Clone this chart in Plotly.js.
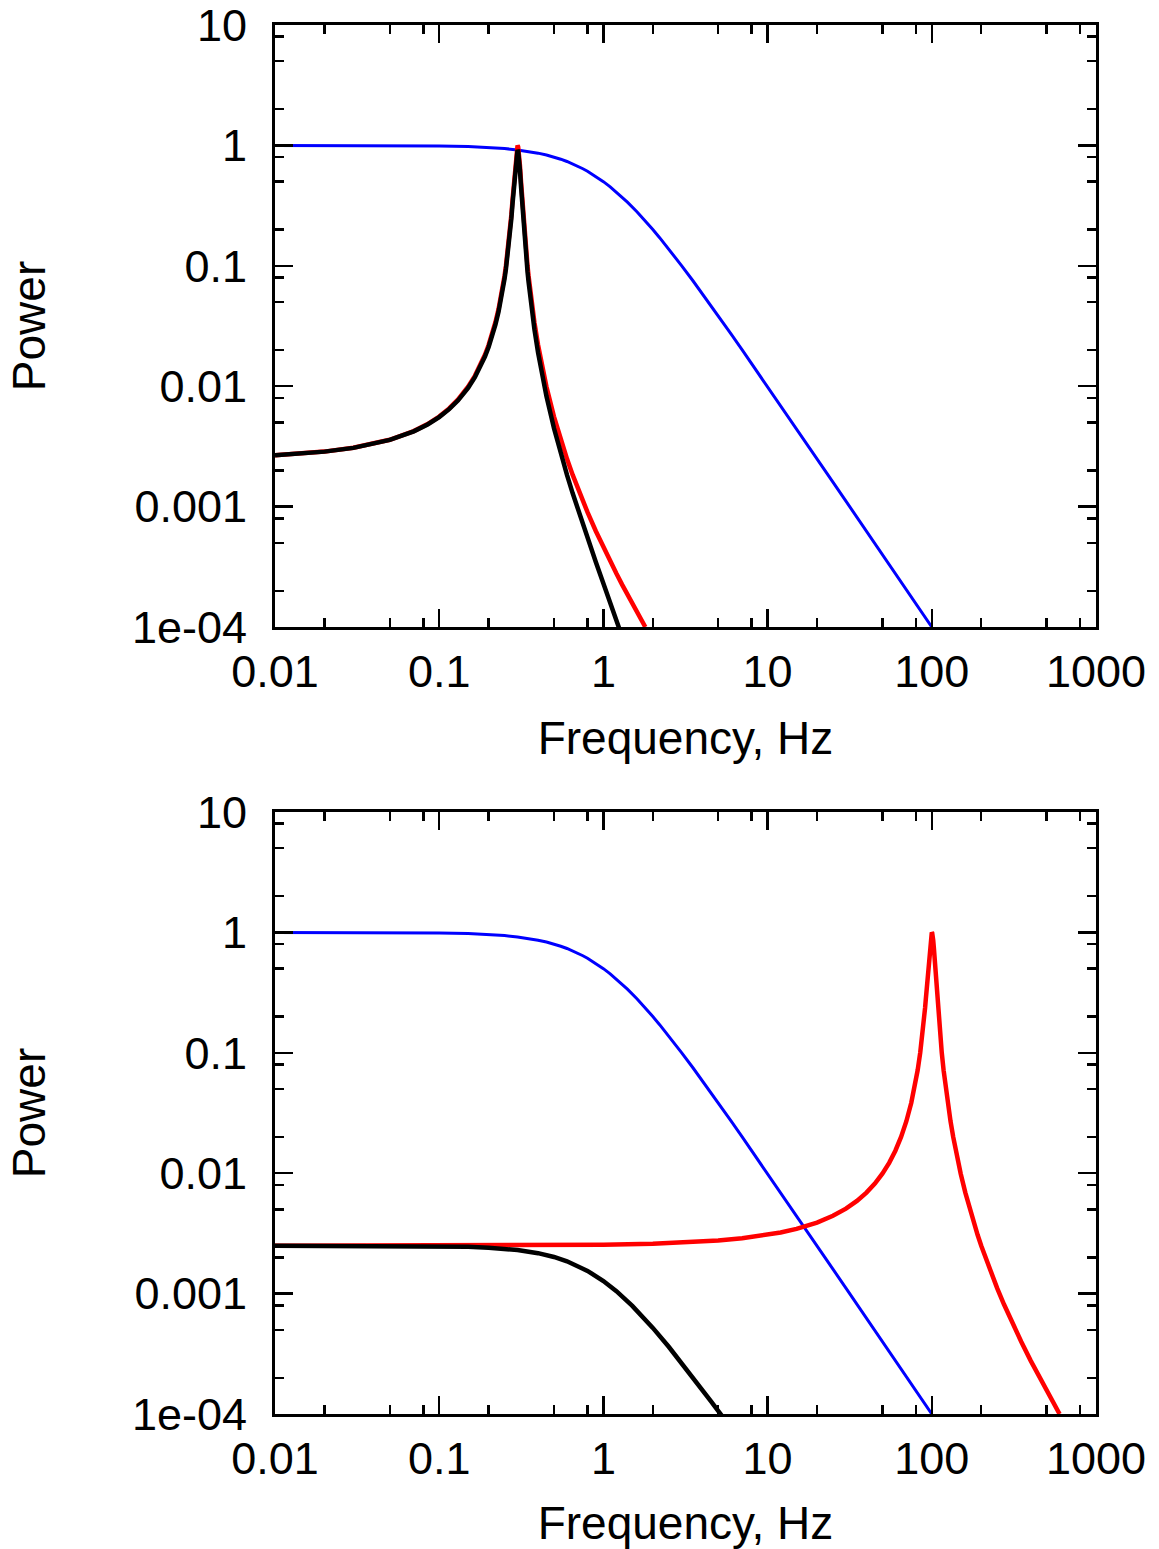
<!DOCTYPE html>
<html>
<head>
<meta charset="utf-8">
<script src="https://cdn.plot.ly/plotly-3.0.1.min.js"></script>
<style>html,body{margin:0;padding:0;background:#fff;}#plot{width:1159px;height:1549px;}</style>
</head>
<body>
<div id="plot"></div>
<script>
// ---- Top panel (red Lorentzian peak near 0.3 Hz, black filtered version) ----
const topFreq = [0.01,0.02,0.03,0.04,0.05,0.07,0.085,0.1,0.115,0.13,0.15,0.165,0.18,0.19,0.2,0.21,0.22,0.23,0.24,0.245,0.25,0.255,0.26,0.265,0.27,0.275,0.28,0.285,0.29,0.295,0.2975,0.3,0.3025,0.305,0.31,0.315,0.32,0.325,0.33,0.335,0.34,0.345,0.35,0.36,0.37,0.38,0.4,0.42,0.45,0.5,0.55,0.6,0.65,0.7,0.75,0.8,0.9,1.0,1.1,1.2,1.3,1.4,1.5,1.6,1.7,1.8];
const topRed = [0.002668,0.002862,0.003077,0.003318,0.003587,0.004237,0.004845,0.005593,0.006532,0.007728,0.009901,0.012195,0.01538,0.018255,0.02200,0.027027,0.03397,0.043898,0.05882,0.069252,0.08257,0.1,0.1233,0.15517,0.2,0.26471,0.36,0.5,0.6923,0.9,0.97297,1.0,0.97297,0.9,0.6923,0.5,0.36,0.26471,0.2,0.15517,0.1233,0.1,0.08257,0.05882,0.043898,0.03397,0.022,0.01538,0.009901,0.005593,0.003587,0.002494,0.0018335,0.001404,0.0011099,0.000899,0.00062461,0.000459,0.00035149,0.0002777,0.00022497,0.0001859,0.00015623,0.0001331,0.00011478,0.0001];
const topBlack = [0.002668,0.002861,0.003074,0.003313,0.003578,0.004216,0.004810,0.005538,0.006447,0.007600,0.009683,0.011872,0.01490,0.017620,0.02115,0.025886,0.03240,0.041693,0.05561,0.065333,0.07772,0.09390,0.1155,0.14499,0.1864,0.24611,0.3338,0.4625,0.6386,0.8279,0.8939,0.9174,0.8914,0.8234,0.6316,0.4549,0.3266,0.23943,0.1804,0.13952,0.1105,0.08936,0.07356,0.05207,0.038612,0.02968,0.01897,0.013077,0.008234,0.004474,0.002754,0.001834,0.001289,0.0009422,0.0007103,0.0005482,0.0003451,0.0002295,0.00015905,0.0001138,0.00008362,0.0000628,0.00004807,0.0000374,0.0000295,0.0000236];

// ---- Blue curve (same in both panels) ----
const blueFreq = [0.01,0.02,0.03,0.05,0.07,0.1,0.15,0.2,0.25,0.3,0.35,0.4,0.45,0.5,0.55,0.6,0.65,0.7,0.75,0.8,0.9,1,1.1,1.2,1.3,1.4,1.6,1.8,2,2.2,2.5,2.8,3,3.5,4,4.5,5,6,7,8,10,12,15,20,25,30,40,50,60,70,80,100];
const blueVal = [0.9999,0.9996,0.9991,0.9975,0.9951,0.9901,0.9780,0.9615,0.9412,0.9174,0.8909,0.8621,0.8316,0.8,0.7678,0.7353,0.7030,0.6711,0.64,0.6098,0.5525,0.5,0.4525,0.4098,0.3717,0.3378,0.2809,0.2358,0.2,0.1712,0.1379,0.1131,0.1,0.07547,0.05882,0.04706,0.03846,0.02703,0.02,0.01538,0.009901,0.006897,0.004425,0.002494,0.001597,0.001110,0.0006246,0.0003998,0.0002777,0.0002040,0.0001562,0.00009999];

// ---- Bottom panel (red Lorentzian peak at 100 Hz, black filtered version) ----
const botRedFreq = [0.01,0.1,0.3,1,2,3,5,7,10,12,15,20,25,30,35,40,45,50,55,60,65,70,75,78,80,82,85,86.5,88,90,91,92,93,94,95,96,97,98,99,99.5,100,100.5,101,102,103,104,105,106,107,108,109,110,112,113.5,115,118,120,122,125,130,135,140,145,150,160,175,190,200,225,250,275,300,350,400,450,500,550,600];
const botRed = [0.002494,0.002499,0.002509,0.002544,0.002596,0.002650,0.002762,0.002882,0.003077,0.003218,0.003448,0.003891,0.004425,0.005076,0.005882,0.006897,0.008197,0.009901,0.012195,0.01538,0.02,0.02703,0.03846,0.04912,0.05882,0.07163,0.1,0.1206,0.1479,0.2,0.2358,0.2809,0.3378,0.4098,0.5,0.6098,0.7353,0.8621,0.9615,0.9901,1.0,0.9901,0.9615,0.8621,0.7353,0.6098,0.5,0.4098,0.3378,0.2809,0.2358,0.2,0.1479,0.1206,0.1,0.07163,0.05882,0.04912,0.03846,0.02703,0.02,0.01538,0.012195,0.009901,0.006897,0.004425,0.003077,0.002494,0.001597,0.001110,0.0008157,0.0006246,0.0003998,0.0002777,0.0002040,0.0001562,0.0001234,0.0001];
const botBlackFreq = [0.01,0.03,0.05,0.1,0.15,0.2,0.3,0.4,0.5,0.6,0.7,0.8,1,1.2,1.5,2,2.5,3,3.5,4,4.5,5,6];
const botBlack = [0.002494,0.002493,0.002490,0.002474,0.002446,0.002407,0.002302,0.002167,0.002015,0.001856,0.001697,0.001545,0.001272,0.001047,0.0007908,0.0005192,0.0003617,0.000265,0.0002021,0.0001592,0.0001287,0.0001062,0.0000763];

// ---- Ticks ----
const xTickVals = [0.01,0.1,1,10,100,1000];
const xTickText = ['0.01','0.1','1','10','100','1000'];
const yTickVals = [0.0001,0.001,0.01,0.1,1,10];
const yTickText = ['1e-04','0.001','0.01','0.1','1','10'];
const minorMult = [2,5,8];
const xDecades = [0.01,0.1,1,10,100];
const yDecades = [0.0001,0.001,0.01,0.1,1];

const xMinor = [], yMinor = [];
xDecades.forEach(d => minorMult.forEach(m => xMinor.push(d*m)));
yDecades.forEach(d => minorMult.forEach(m => yMinor.push(d*m)));

const FONT = 'Liberation Sans, Arial, sans-serif';
const TICKSIZE = 45, TITLESIZE = 46;

function xax(anchor){
  return {
    type:'log', range:[-2,3], anchor:anchor,
    tickmode:'array', tickvals:xTickVals, ticktext:xTickText,
    ticks:'inside', ticklen:18, tickwidth:2.5, tickcolor:'#000',
    minor:{tickmode:'array', tickvals:xMinor, ticks:'inside', ticklen:9, tickwidth:2.5, tickcolor:'#000', showgrid:false},
    showline:true, linewidth:3, linecolor:'#000', mirror:'allticks',
    showgrid:false, zeroline:false,
    tickfont:{family:FONT, size:TICKSIZE, color:'#000'},
    ticklabelstandoff:3, ticklabeloverflow:'allow',
    title:{text:'Frequency, Hz', font:{family:FONT, size:TITLESIZE, color:'#000'}, standoff:26},
    automargin:false
  };
}
function yax(anchor, domain){
  return {
    type:'log', range:[-4,1], anchor:anchor, domain:domain,
    tickmode:'array', tickvals:yTickVals, ticktext:yTickText,
    ticks:'inside', ticklen:18, tickwidth:2.5, tickcolor:'#000',
    minor:{tickmode:'array', tickvals:yMinor, ticks:'inside', ticklen:9, tickwidth:2.5, tickcolor:'#000', showgrid:false},
    showline:true, linewidth:3, linecolor:'#000', mirror:'allticks',
    showgrid:false, zeroline:false,
    tickfont:{family:FONT, size:TICKSIZE, color:'#000'},
    ticklabelstandoff:16, ticklabeloverflow:'allow',
    title:{text:'Power', font:{family:FONT, size:TITLESIZE, color:'#000'}, standoff:72},
    automargin:false
  };
}

const traces = [
  {x:blueFreq, y:blueVal, xaxis:'x', yaxis:'y', mode:'lines', line:{color:'#0000ff', width:3}},
  {x:topFreq, y:topRed, xaxis:'x', yaxis:'y', mode:'lines', line:{color:'#ff0000', width:4.5}},
  {x:topFreq, y:topBlack, xaxis:'x', yaxis:'y', mode:'lines', line:{color:'#000000', width:4.5}},
  {x:blueFreq, y:blueVal, xaxis:'x2', yaxis:'y2', mode:'lines', line:{color:'#0000ff', width:3}},
  {x:botRedFreq, y:botRed, xaxis:'x2', yaxis:'y2', mode:'lines', line:{color:'#ff0000', width:4.5}},
  {x:botBlackFreq, y:botBlack, xaxis:'x2', yaxis:'y2', mode:'lines', line:{color:'#000000', width:4.5}}
];

const layout = {
  width:1159, height:1549,
  margin:{l:275, r:63, t:25, b:135},
  paper_bgcolor:'#fff', plot_bgcolor:'#fff',
  showlegend:false,
  xaxis: xax('y'),
  yaxis: yax('x', [0.5666, 1]),
  xaxis2: xax('y2'),
  yaxis2: yax('x2', [0, 0.4334])
};

Plotly.newPlot('plot', traces, layout, {staticPlot:true, displayModeBar:false});
</script>
</body>
</html>
